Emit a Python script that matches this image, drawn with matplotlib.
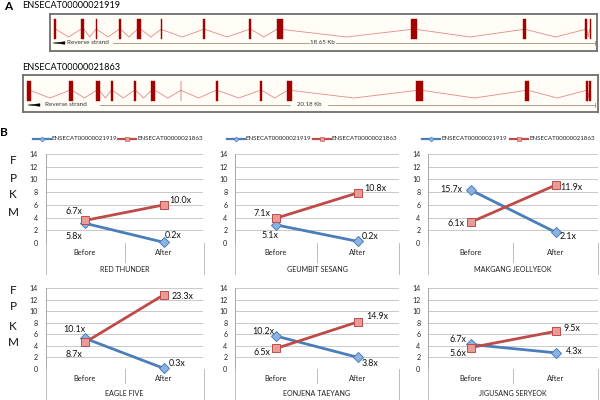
import matplotlib
matplotlib.use('Agg')
import matplotlib.pyplot as plt
from matplotlib.patches import Rectangle, Polygon

plt.rcParams['font.family'] = ['Lato', 'DejaVu Sans']

# ---------------- data ----------------
gene_ids = ['ENSECAT00000021919', 'ENSECAT00000021863']
gene_lengths_kb = [18.65, 20.18]
gene1_exon_starts = [0.00, 0.94, 1.46, 2.27, 2.90, 3.72, 5.19, 6.78, 7.74, 12.39, 16.28, 18.44, 18.60]
gene1_exon_widths = [0.10, 0.12, 0.05, 0.07, 0.14, 0.03, 0.08, 0.08, 0.21, 0.23, 0.11, 0.07, 0.05]
gene2_exon_starts = [0.00, 1.50, 2.47, 3.00, 3.82, 4.44, 5.49, 6.75, 8.33, 9.31, 13.92, 17.84, 20.00, 20.13]
gene2_exon_widths = [0.12, 0.12, 0.12, 0.06, 0.07, 0.14, 0.03, 0.07, 0.08, 0.17, 0.26, 0.12, 0.07, 0.05]

cultivars = ['RED THUNDER', 'GEUMBIT SESANG', 'MAKGANG JEOLLYEOK',
             'EAGLE FIVE', 'EONJENA TAEYANG', 'JIGUSANG SERYEOK']
stages = ['Before', 'After']
fpkm_21919 = [[3.1, 0.1], [2.85, 0.25], [8.35, 1.7], [5.3, 0.1], [5.7, 2.0], [4.25, 2.8]]
fpkm_21863 = [[3.55, 6.0], [3.9, 7.9], [3.25, 9.1], [4.6, 12.85], [3.55, 8.15], [3.7, 6.5]]
fold_21919 = [['5.8x', '0.2x'], ['5.1x', '0.2x'], ['15.7x', '2.1x'],
              ['10.1x', '0.3x'], ['10.2x', '3.8x'], ['6.7x', '4.3x']]
fold_21863 = [['6.7x', '10.0x'], ['7.1x', '10.8x'], ['6.1x', '11.9x'],
              ['8.7x', '23.3x'], ['6.5x', '14.9x'], ['5.6x', '9.5x']]
y_ticks = [0, 2, 4, 6, 8, 10, 12, 14]

# ---------------- layout / style (pixels, y downward) ----------------
W, H = 600, 400
BLUE_LINE, BLUE_FILL = '#4A7EBB', '#8DB3E2'
RED_LINE, RED_FILL = '#BE4B48', '#E99B98'
GRID = '#C9C9C9'

# label offsets in px (dx, dy with dy downward): [before, after]
off_blue = [[(-11, 13), (9, -7)], [(-6, 11), (12, -5)], [(-19, 0), (12, 4)],
            [(-11, -9), (13, -5)], [(-13, -5), (12, 6)], [(-13, -5), (19, -1)]]
off_red = [[(-11, -9), (16, -4)], [(-14, -5), (17, -4)], [(-14, 1), (16, 2)],
           [(-11, 12), (18, 2)], [(-14, 4), (19, -5)], [(-13, 6), (16, -3)]]

cols = [(45.5, 203.5), (235, 399), (428, 598)]
rows = [(154, 243), (288, 369)]
row_sep_outer = [31, 31]
row_sep_mid = [19, 14]
row_group_y = [26, 25]
legend_x = [(33, 118), (227, 313), (422, 510)]


def rect(x0, y0, x1, y1):
    return [x0 / W, 1 - y1 / H, (x1 - x0) / W, (y1 - y0) / H]


fig = plt.figure(figsize=(6, 4), dpi=100)
fig.patch.set_facecolor('white')

# ---------------- Panel A: gene models ----------------
gene_boxes = [(50, 14, 597, 51), (23, 75, 598, 112)]
gene_px_range = [(53.5, 591.0), (27.3, 590.7)]
exon_sets = [(gene1_exon_starts, gene1_exon_widths), (gene2_exon_starts, gene2_exon_widths)]
for gi in range(2):
    bx0, by0, bx1, by1 = gene_boxes[gi]
    p0, p1 = gene_px_range[gi]
    L = gene_lengths_kb[gi]
    s = (p1 - p0) / L
    ax = fig.add_axes(rect(bx0, by0, bx1, by1))
    ax.set_facecolor('#FFFDF6')
    ax.set_xlim((bx0 - p0) / s, (bx1 - p0) / s)
    ax.set_ylim(by1, by0)
    ax.set_xticks([])
    ax.set_yticks([])
    for sp in ax.spines.values():
        sp.set_color('#6E6E6E')
        sp.set_linewidth(1.3)
    starts, widths = exon_sets[gi]
    top, bot = by0 + 5.5, by0 + 25.5
    mid = (top + bot) / 2
    for i in range(len(starts) - 1):
        e_end = starts[i] + widths[i]
        n_start = starts[i + 1]
        ax.plot([e_end, (e_end + n_start) / 2, n_start], [mid, mid + 7.5, mid],
                color='#E38A8A', lw=0.6, zorder=2)
    for st, wd in zip(starts, widths):
        ax.add_patch(Rectangle((st, top), wd, bot - top, facecolor='#A30000',
                               edgecolor='#A30000', lw=0.3, zorder=3))

# overlay for annotations
ov = fig.add_axes([0, 0, 1, 1], zorder=10)
ov.set_xlim(0, W)
ov.set_ylim(H, 0)
ov.axis('off')
ov.patch.set_alpha(0)

ov.text(4, 7, 'A', fontsize=8.5, fontweight='bold', ha='left', va='center')
ov.text(22, 6, gene_ids[0], fontsize=6.6, ha='left', va='center')
ov.text(22, 68, gene_ids[1], fontsize=6.6, ha='left', va='center')

scale_specs = [
    dict(y=43, ax0=53, tx=67, l1=(113, 309), lab=(322, f'{gene_lengths_kb[0]:.2f} Kb'), l2=(336, 595)),
    dict(y=105, ax0=28, tx=45, l1=(100, 290), lab=(309, f'{gene_lengths_kb[1]:.2f} Kb'), l2=(328, 595)),
]
for sp in scale_specs:
    y = sp['y']
    a0 = sp['ax0']
    ov.add_patch(Polygon([[a0, y], [a0 + 12, y - 1.3], [a0 + 12, y + 1.3]],
                         closed=True, facecolor='black', edgecolor='black', lw=0.3))
    ov.text(sp['tx'], y, 'Reverse strand', fontsize=4.6, color='#333333',
            ha='left', va='center')
    ov.plot(sp['l1'], [y, y], color='#9C9478', lw=0.6)
    ov.text(sp['lab'][0], y, sp['lab'][1], fontsize=4.4, color='#333333',
            ha='center', va='center')
    ov.plot(sp['l2'], [y, y], color='#9C9478', lw=0.6)
    ov.plot([sp['l2'][1], sp['l2'][1]], [y - 2, y + 2], color='#9C9478', lw=0.6)

# ---------------- Panel B: line charts ----------------
ov.text(0, 132, 'B', fontsize=8.5, fontweight='bold', ha='left', va='center')
fpkm_y = [[160, 179, 195, 212], [290, 307, 326, 342]]
for r in range(2):
    for letter, yy in zip('FPKM', fpkm_y[r]):
        ov.text(13, yy, letter, fontsize=8.5, ha='center', va='center', color='#111111')

for k in range(6):
    r, c = divmod(k, 3)
    x0, x1 = cols[c]
    y14, y0 = rows[r]
    ax = fig.add_axes(rect(x0, y14, x1, y0))
    ax.patch.set_alpha(0)
    ax.set_xlim(-0.5, 1.5)
    ax.set_ylim(0, 14)
    ax.set_yticks(y_ticks)
    ax.set_yticklabels([str(t) for t in y_ticks], fontsize=5.1, color='#222222')
    ax.set_xticks(range(len(stages)))
    ax.set_xticklabels(stages, fontsize=5.4, color='#222222')
    ax.tick_params(axis='y', length=0, pad=5.5)
    ax.tick_params(axis='x', length=0, pad=4.3)
    ax.grid(axis='y', color=GRID, lw=0.7)
    ax.set_axisbelow(True)
    for name in ['top', 'right', 'bottom']:
        ax.spines[name].set_visible(False)
    ax.spines['left'].set_color('#A8A8A8')
    ax.spines['left'].set_linewidth(0.7)

    xs = list(range(len(stages)))
    ax.plot(xs, fpkm_21919[k], color=BLUE_LINE, lw=2.0, marker='D', markersize=4.8,
            markerfacecolor=BLUE_FILL, markeredgecolor=BLUE_LINE, markeredgewidth=0.7,
            clip_on=False, zorder=3)
    ax.plot(xs, fpkm_21863[k], color=RED_LINE, lw=2.0, marker='s', markersize=5.6,
            markerfacecolor=RED_FILL, markeredgecolor=RED_LINE, markeredgewidth=0.7,
            clip_on=False, zorder=4)
    for j in range(2):
        dx, dy = off_blue[k][j]
        ax.annotate(fold_21919[k][j], (xs[j], fpkm_21919[k][j]), xytext=(dx, -dy),
                    textcoords='offset pixels', ha='center', va='center',
                    fontsize=6.4, color='#111111', zorder=6, annotation_clip=False)
        dx, dy = off_red[k][j]
        ax.annotate(fold_21863[k][j], (xs[j], fpkm_21863[k][j]), xytext=(dx, -dy),
                    textcoords='offset pixels', ha='center', va='center',
                    fontsize=6.4, color='#111111', zorder=6, annotation_clip=False)

    # category separators & group label
    xm = (x0 + x1) / 2
    for xx in (x0, x1):
        ov.plot([xx, xx], [y0, min(y0 + row_sep_outer[r], H)], color='#BDBDBD', lw=0.7)
    ov.plot([xm, xm], [y0, y0 + row_sep_mid[r]], color='#BDBDBD', lw=0.7)
    ov.text(xm, y0 + row_group_y[r], cultivars[k], fontsize=5.1, color='#222222',
            ha='center', va='center')

    # legend (top row only)
    if r == 0:
        ly = 139
        bx, rx = legend_x[c]
        ov.plot([bx, bx + 18], [ly, ly], color=BLUE_LINE, lw=1.6)
        ov.plot([bx + 9], [ly], marker='D', markersize=2.6, color=BLUE_FILL,
                markeredgecolor=BLUE_LINE, markeredgewidth=0.4)
        ov.text(bx + 19, ly, gene_ids[0], fontsize=4.4, color='#222222',
                ha='left', va='center')
        ov.plot([rx, rx + 18], [ly, ly], color=RED_LINE, lw=1.6)
        ov.plot([rx + 9], [ly], marker='s', markersize=3, color=RED_FILL,
                markeredgecolor=RED_LINE, markeredgewidth=0.4)
        ov.text(rx + 19, ly, gene_ids[1], fontsize=4.4, color='#222222',
                ha='left', va='center')

fig.savefig('out.png', dpi=100, facecolor='white')
